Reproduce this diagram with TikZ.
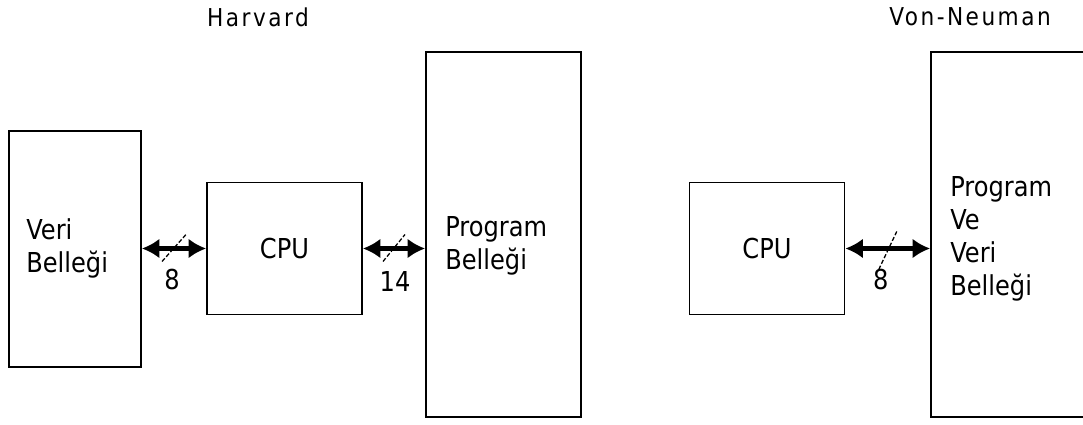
\documentclass[tikz,border=0pt]{standalone}
\usepackage{fontspec}
\setmainfont{DejaVu Sans}[FakeStretch=0.88]
\newfontfamily\titlefont{DejaVu Sans}[FakeStretch=0.88,LetterSpace=10]
\usepackage{tikz}
\usetikzlibrary{arrows.meta}

\begin{document}
\begin{tikzpicture}[x=0.025cm,y=-0.025cm,
  box/.style={draw,line width=1.2pt,inner sep=0pt},
  txt/.style={inner sep=0pt,align=left,anchor=west,font=\fontsize{19.5}{23.5}\selectfont},
  num/.style={inner sep=0pt,font=\fontsize{19.5}{23.5}\selectfont},
  title/.style={inner sep=0pt,font=\titlefont\fontsize{17.5}{20}\selectfont},
  bus/.style={line width=3pt,{Latex[length=4.4mm,width=5mm]}-{Latex[length=4.4mm,width=5mm]}},
  slash/.style={dash pattern=on 3pt off 1.5pt,line width=0.9pt}]
\clip (0,0) rectangle (1083,425);
\node[title] (harvard) at (258,17) {Harvard};
\node[title] (vonneuman) at (970,17) {Von-Neuman};
\node[box,minimum width=3.3cm,minimum height=5.9cm] (veri) at (75,249) {};
\node[box,minimum width=3.875cm,minimum height=3.3cm] (cpua) at (284.5,248.5) {};
\node[box,minimum width=3.875cm,minimum height=9.125cm] (prog) at (503.5,234.5) {};
\node[box,minimum width=3.875cm,minimum height=3.3cm] (cpub) at (767,248.5) {};
\node[box,minimum width=3.875cm,minimum height=9.125cm] (vn) at (1008.5,234.5) {};
\node[txt] (veritxt) at (26,248) {Veri\\Belleği};
\node[num] (cpuatxt) at (cpua) {CPU};
\node[txt] (progtxt) at (445,246) {Program\\Belleği};
\node[num] (cpubtxt) at (cpub) {CPU};
\node[txt] (vntxt) at (950,238.5) {Program\\Ve\\Veri\\Belleği};
\draw[bus] (veri.east |- cpua.west) -- coordinate[midway] (ma) (cpua.west);
\draw[bus] (cpua.east) -- coordinate[midway] (mb) (cpua.east -| prog.west);
\draw[bus] (cpub.east) -- coordinate[midway] (mc) (cpub.east -| vn.west);
\draw[slash] ([shift={(-12,13)}]ma) -- ([shift={(12,-14)}]ma);
\draw[slash] ([shift={(-11,13)}]mb) -- ([shift={(11,-14)}]mb);
\draw[slash] ([shift={(-9,21)}]mc) -- ([shift={(9,-17)}]mc);
\node[num] (wa) at ([shift={(-2,31)}]ma) {8};
\node[num] (wb) at ([shift={(1,33)}]mb) {14};
\node[num] (wc) at ([shift={(-7,31)}]mc) {8};
\end{tikzpicture}
\end{document}
